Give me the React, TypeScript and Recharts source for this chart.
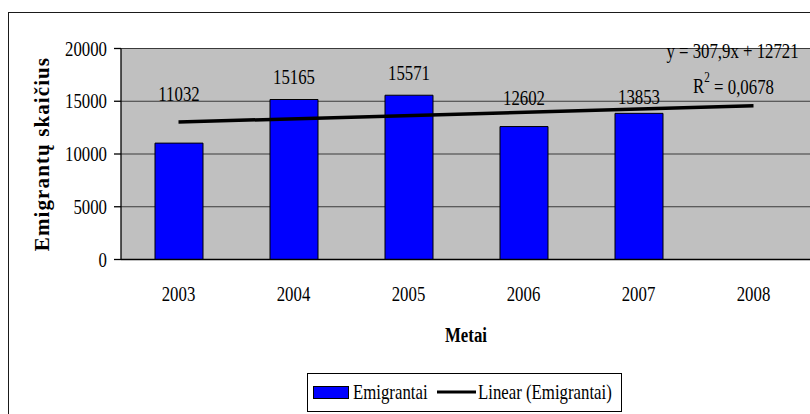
import { ComposedChart, Bar, Line, XAxis, YAxis, CartesianGrid, Legend, LabelList } from "recharts";

const years = ["2003", "2004", "2005", "2006", "2007", "2008"];
const emigrants = [11032, 15165, 15571, 12602, 13853, null];
// tiesinis trendas, galai nuskaityti nuo paveikslo
const trend = [13030, null, null, null, null, 14570];
const yTicks = [0, 5000, 10000, 15000, 20000];
const boundaryTicks = [0, 1, 2, 3, 4, 5, 6];
const trendEquation = "y = 307,9x + 12721";
const trendR2 = "0,0678";

const data = years.map((year, i) => ({
    year,
    pos: i + 0.5,
    emigrants: emigrants[i],
    trend: trend[i]
}));

// Etikeciu pakelimas virs stulpelio (px), kaip originale
const labelLift = [49, 22.5, 22, 28.5, 17];

const FONT = '"Liberation Serif", "Times New Roman", serif';
const SQ = 0.8; // originalas horizontaliai suspaustas

const SqText = ({ x, y, children, anchor = "middle", bold = false, size = 21 }: any) => (
    <text
        transform={`translate(${x},${y}) scale(${SQ},1)`}
        textAnchor={anchor}
        dominantBaseline="central"
        fontFamily={FONT}
        fontSize={size}
        fontWeight={bold ? 700 : 400}
        fill="#000"
    >
        {children}
    </text>
);

const YTick = ({ x, y, payload }: any) => (
    <SqText x={x} y={y} anchor="end">
        {payload.value}
    </SqText>
);

const XTick = ({ x, y, payload }: any) => (
    <SqText x={x} y={y + 25}>
        {payload.value}
    </SqText>
);

const YTitle = ({ viewBox }: any) => (
    <text
        transform={`translate(42,${viewBox.y + viewBox.height / 2}) rotate(-90)`}
        textAnchor="middle"
        dominantBaseline="central"
        fontFamily={FONT}
        fontSize={21}
        fontWeight={700}
        letterSpacing={1.1}
        fill="#000"
    >
        Emigrantų skaičius
    </text>
);

const XTitle = ({ viewBox }: any) => (
    <SqText x={viewBox.x + viewBox.width / 2} y={viewBox.y + 74} bold>
        Metai
    </SqText>
);

const BarValue = ({ x, y, width, value, index }: any) => {
    if (value == null) return null;
    return (
        <SqText x={x + width / 2} y={y - labelLift[index]}>
            {value}
        </SqText>
    );
};

// Excel trendo lygtis prie paskutinio tasko
const TrendLabel = ({ x, y, index }: any) => {
    if (index !== data.length - 1) return null;
    return (
        <g>
            <SqText x={x - 21} y={y - 55}>
                {trendEquation}
            </SqText>
            <SqText x={x - 20} y={y - 20}>
                R<tspan fontSize={14} dy={-8}>2</tspan>
                <tspan dy={8}>{` = ${trendR2}`}</tspan>
            </SqText>
        </g>
    );
};

const LegendBox = () => (
    <svg width={315} height={39} style={{ display: "block" }}>
        <rect x={0.5} y={0.5} width={314} height={38} fill="#fff" stroke="#000" />
        <rect x={6.5} y={13.5} width={35} height={12} fill="#0000FF" stroke="#000" />
        <SqText x={46} y={19} anchor="start">
            Emigrantai
        </SqText>
        <line x1={130} x2={169} y1={19} y2={19} stroke="#000" strokeWidth={3} />
        <SqText x={171} y={19} anchor="start">
            Linear (Emigrantai)
        </SqText>
    </svg>
);

export default function App() {
    return (
        <div style={{ position: "absolute", left: 0, top: 0, width: 810, height: 414, overflow: "hidden", background: "#fff" }}>
            <div
                style={{
                    position: "absolute",
                    left: 8,
                    top: 12,
                    width: 900,
                    height: 500,
                    border: "1.5px solid #1a1a1a"
                }}
            />
            <div style={{ position: "absolute", left: 0, top: 0 }}>
                <ComposedChart width={812} height={414} data={data} margin={{ top: 48.5, right: 1, bottom: 0, left: 0 }}>
                    <CartesianGrid xAxisId="cat" vertical={false} stroke="#3a3a3a" fill="#C0C0C0" fillOpacity={1} />
                    <XAxis
                        xAxisId="bounds"
                        type="number"
                        dataKey="pos"
                        domain={[0, 6]}
                        ticks={boundaryTicks}
                        tick={false}
                        tickSize={7}
                        height={1}
                        axisLine={{ stroke: "#000", strokeWidth: 1.3 }}
                        tickLine={{ stroke: "#000", strokeWidth: 1.3 }}
                        allowDataOverflow
                    />
                    <XAxis
                        xAxisId="cat"
                        dataKey="year"
                        height={114.5}
                        axisLine={false}
                        tickLine={false}
                        tick={<XTick />}
                        interval={0}
                        label={<XTitle />}
                    />
                    <YAxis
                        domain={[0, 20000]}
                        ticks={yTicks}
                        width={121}
                        tickSize={7}
                        tickMargin={7}
                        axisLine={{ stroke: "#000", strokeWidth: 1.3 }}
                        tickLine={{ stroke: "#000", strokeWidth: 1.3 }}
                        tick={<YTick />}
                        label={<YTitle />}
                    />
                    <Bar
                        xAxisId="cat"
                        dataKey="emigrants"
                        name="Emigrantai"
                        fill="#0000FF"
                        stroke="#000"
                        strokeWidth={1}
                        barSize={48}
                        isAnimationActive={false}
                    >
                        <LabelList dataKey="emigrants" content={<BarValue />} />
                    </Bar>
                    <Line
                        xAxisId="cat"
                        dataKey="trend"
                        name="Linear (Emigrantai)"
                        stroke="#000"
                        strokeWidth={3.5}
                        dot={false}
                        activeDot={false}
                        connectNulls
                        isAnimationActive={false}
                    >
                        <LabelList dataKey="trend" content={<TrendLabel />} />
                    </Line>
                    <Legend
                        verticalAlign="bottom"
                        content={<LegendBox />}
                        wrapperStyle={{ position: "absolute", left: 307, top: 373, bottom: "auto", width: 315, height: 39 }}
                    />
                </ComposedChart>
            </div>
        </div>
    );
}
